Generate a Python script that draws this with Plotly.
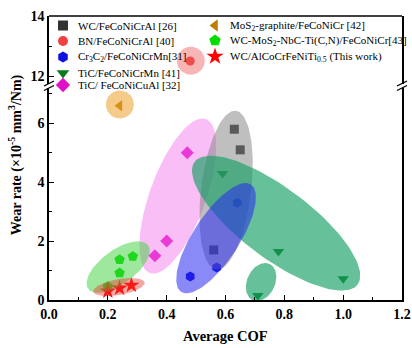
import numpy as np
import plotly.graph_objects as go

# ---------------- data ----------------
wc_x = [0.63, 0.65, 0.56]
wc_y = [5.8, 5.1, 1.7]
bn_x = [0.48]
bn_y = [12.5]
cr_x = [0.64, 0.48, 0.57]
cr_y = [3.3, 0.8, 1.1]
tic_mn_x = [0.59, 0.78, 1.0, 0.71]
tic_mn_y = [4.3, 1.65, 0.72, 0.15]
tic_al_x = [0.47, 0.40, 0.36]
tic_al_y = [5.0, 2.0, 1.5]
mos_x = [0.24]
mos_y = [6.6]
wcm_x = [0.24, 0.285, 0.24, 0.20]
wcm_y = [1.37, 1.48, 0.92, 0.45]
tw_x = [0.20, 0.24, 0.28]
tw_y = [0.30, 0.40, 0.50]

x_ticks = [0.0, 0.2, 0.4, 0.6, 0.8, 1.0, 1.2]
y_low_ticks = [0, 2, 4, 6]
y_high_ticks = [12, 14]

# ---------------- layout geometry ----------------
W, H = 412, 348
ML, MR, MT, MB = 49, 10, 16, 48
PW, PH = W - ML - MR, H - MT - MB
XR = [0, 1.2]
YLOW = [0, 7.2]
YHIGH = [11.75, 14]
low_px = 212
high_px = 67.5
dom_low = [0, low_px / PH]
dom_high = [1 - high_px / PH, 1]
SX = PW / (XR[1] - XR[0])
SY_LOW = low_px / (YLOW[1] - YLOW[0])
SY_HIGH = high_px / (YHIGH[1] - YHIGH[0])

FONT = "Liberation Serif"

# ellipse highlights: centre (data), semi axes (px), angle (deg), colour, axis
ellipses = [
    (0.241, 6.64, 14, 14, 0, "rgba(235,160,40,0.55)", "y"),
    (0.482, 12.51, 14, 14, 0, "rgba(240,90,90,0.45)", "y2"),
    (0.438, 3.53, 82, 28, 70, "rgba(245,110,235,0.45)", "y"),
    (0.602, 3.73, 80, 25, 83, "rgba(128,128,128,0.5)", "y"),
    (0.772, 2.61, 102, 35, -37, "rgba(20,160,100,0.65)", "y"),
    (0.721, 0.61, 20, 14, 65, "rgba(20,160,100,0.65)", "y"),
    (0.568, 2.10, 64, 23, 57, "rgba(40,40,240,0.55)", "y"),
    (0.235, 1.12, 37, 17, 36, "rgba(60,210,60,0.5)", "y"),
    (0.238, 0.44, 26, 8, 10, "rgba(230,60,50,0.45)", "y"),
]


def ellipse_pts(cx, cy, a, b, ang, sy, n=120):
    t = np.linspace(0, 2 * np.pi, n)
    th = np.radians(ang)
    dx = a * np.cos(t) * np.cos(th) - b * np.sin(t) * np.sin(th)
    dy = a * np.cos(t) * np.sin(th) + b * np.sin(t) * np.cos(th)
    return cx + dx / SX, cy + dy / sy


fig = go.Figure()

series = [
    ("WC/FeCoNiCrAl [26]", wc_x, wc_y, "square", "#333333", 9, "y"),
    ("BN/FeCoNiCrAl [40]", bn_x, bn_y, "circle", "#F04040", 9, "y2"),
    ("Cr<sub>3</sub>C<sub>2</sub>/FeCoNiCrMn[31]", cr_x, cr_y, "hexagon", "#1010E0", 10, "y"),
    ("TiC/FeCoNiCrMn [41]", tic_mn_x, tic_mn_y, "triangle-down", "#0A7A1A", 10, "y"),
    ("TiC/ FeCoNiCuAl [32]", tic_al_x, tic_al_y, "diamond", "#E010C8", 10, "y"),
    ("MoS<sub>2</sub>-graphite/FeCoNiCr [42]", mos_x, mos_y, "triangle-left", "#C07E00", 10, "y"),
    ("WC-MoS<sub>2</sub>-NbC-Ti(C,N)/FeCoNiCr[43]", wcm_x, wcm_y, "pentagon", "#00DD00", 11, "y"),
    ("WC/AlCoCrFeNiTi<sub>0.5</sub> (This work)", tw_x, tw_y, "star", "#FF0000", 12, "y"),
]

for name, xs, ys, sym, col, sz, ya in series:
    fig.add_trace(go.Scatter(
        x=xs, y=ys, mode="markers", name=name, showlegend=False,
        xaxis="x", yaxis=ya,
        marker=dict(symbol=sym, color=col, size=sz, line=dict(width=0)),
    ))

for cx, cy, a, b, ang, col, ya in ellipses:
    sy = SY_HIGH if ya == "y2" else SY_LOW
    ex, ey = ellipse_pts(cx, cy, a, b, ang, sy)
    fig.add_trace(go.Scatter(
        x=ex, y=ey, mode="lines", fill="toself", fillcolor=col,
        line=dict(width=0), hoverinfo="skip", showlegend=False,
        xaxis="x", yaxis=ya,
    ))

# ---------------- manual two-column legend (pixel overlay axes x3/y3) ----------------
leg_pos = [  # (marker x px, row y px) in figure pixels
    (63, 25.5), (63, 41), (63, 57), (63, 73), (63, 85),
    (215, 25.5), (215, 40.5), (215, 56.5),
]
TEXT_DX = 13
for (name, xs, ys, sym, col, sz, ya), (lx, ly) in zip(series, leg_pos):
    fig.add_trace(go.Scatter(
        x=[lx - ML], y=[ly - MT], mode="markers", showlegend=False, hoverinfo="skip",
        xaxis="x3", yaxis="y3",
        marker=dict(symbol=sym, color=col, size=sz + 1, line=dict(width=0)),
    ))
    fig.add_annotation(
        text=name, xref="x3", yref="y3", x=lx - ML + TEXT_DX, y=ly - MT,
        xanchor="left", yanchor="middle", showarrow=False,
        font=dict(family=FONT, size=11, color="black"),
    )

axis_font = dict(family=FONT, size=14, color="black", weight="bold")

fig.update_layout(
    width=W, height=H,
    margin=dict(l=ML, r=MR, t=MT, b=MB, autoexpand=False),
    paper_bgcolor="white", plot_bgcolor="rgba(0,0,0,0)",
    showlegend=False,
    xaxis=dict(
        range=XR, tickvals=x_ticks, ticktext=[f"{v:.1f}" for v in x_ticks],
        ticks="inside", ticklen=5, tickwidth=1.3, tickcolor="black",
        minor=dict(dtick=0.1, ticks="inside", ticklen=3, tickwidth=1.2, tickcolor="black"),
        showline=True, linecolor="black", linewidth=1.5, mirror=False,
        showgrid=False, zeroline=False, tickfont=axis_font, anchor="y",
    ),
    yaxis=dict(
        domain=dom_low, range=YLOW, tickvals=y_low_ticks,
        ticks="inside", ticklen=5, tickwidth=1.3, tickcolor="black",
        minor=dict(dtick=1, ticks="inside", ticklen=3, tickwidth=1.2, tickcolor="black"),
        showline=True, linecolor="black", linewidth=1.5, mirror=True,
        showgrid=False, zeroline=False, tickfont=axis_font, anchor="x",
    ),
    yaxis2=dict(
        domain=dom_high, range=YHIGH, tickvals=y_high_ticks,
        ticks="inside", ticklen=5, tickwidth=1.3, tickcolor="black",
        minor=dict(dtick=1, ticks="inside", ticklen=3, tickwidth=1.2, tickcolor="black"),
        showline=True, linecolor="black", linewidth=1.5, mirror=True,
        showgrid=False, zeroline=False, tickfont=axis_font, anchor="x",
    ),
    xaxis3=dict(domain=[0, 1], range=[0, PW], visible=False, anchor="y3", fixedrange=True),
    yaxis3=dict(domain=[0, 1], range=[PH, 0], visible=False, anchor="x3", fixedrange=True),
)

# top frame line
shapes = [dict(type="line", xref="paper", yref="paper", x0=0, x1=1, y0=1, y1=1,
               line=dict(color="black", width=1.5))]
# axis break marks
px_x = 1 / PW
px_y = 1 / PH
for xb in (0, 1):
    for yb in (dom_low[1], dom_high[0]):
        shapes.append(dict(type="line", xref="paper", yref="paper",
                           x0=xb - 5 * px_x, x1=xb + 5 * px_x,
                           y0=yb - 2.5 * px_y, y1=yb + 2.5 * px_y,
                           line=dict(color="black", width=1.3)))
fig.update_layout(shapes=shapes)

fig.add_annotation(
    text="Average COF", xref="paper", yref="paper", x=0.5, y=-(336 - (MT + PH)) / PH,
    showarrow=False, font=dict(family=FONT, size=14.5, color="black", weight="bold"),
    xanchor="center", yanchor="middle",
)
fig.add_annotation(
    text="Wear rate (×10<sup>-5</sup> mm<sup>3</sup>/Nm)", xref="paper", yref="paper",
    x=(15 - ML) / PW, y=0.51, textangle=-90, showarrow=False,
    font=dict(family=FONT, size=14, color="black", weight="bold"),
    xanchor="center", yanchor="middle",
)

fig.write_html("out.html")
